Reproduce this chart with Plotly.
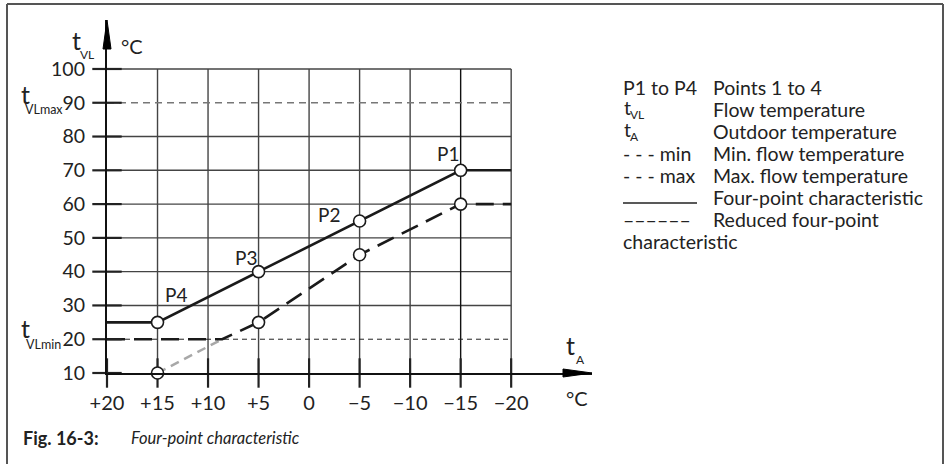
import plotly.graph_objects as go

# ---- data ----
x_ticks = [20, 15, 10, 5, 0, -5, -10, -15, -20]
x_tick_text = ["+20", "+15", "+10", "+5", "0", "\u22125", "\u221210", "\u221215", "\u221220"]
y_ticks = [10, 20, 30, 40, 50, 60, 70, 80, 90, 100]
y_grid_solid = [30, 40, 50, 60, 70, 80, 100]
y_max_line = 90
y_min_line = 20

four_point_x = [20, 15, 5, -5, -15, -20]
four_point_y = [25, 25, 40, 55, 70, 70]

reduced_x = [20, 8.6, 5, -5, -15, -20]
reduced_y = [20, 20, 25, 45, 60, 60]

reduced_ext_x = [15, 8.6]
reduced_ext_y = [10, 20]

points_x = [-15, -5, 5, 15]
points_y = [70, 55, 40, 25]
points_lbl = ["P1", "P2", "P3", "P4"]
reduced_pts_x = [-15, -5, 5, 15]
reduced_pts_y = [60, 45, 25, 10]

# legend: (symbol text, subscript, description)
legend_sym = ["P1 to P4", "t", "t", "- - - min", "- - - max", "", "\u2013\u2013\u2013\u2013\u2013\u2013", "characteristic"]
legend_sub = ["", "VL", "A", "", "", "", "", ""]
legend_desc = ["Points 1 to 4", "Flow temperature", "Outdoor temperature", "Min. flow temperature",
               "Max. flow temperature", "Four-point characteristic", "Reduced four-point", ""]

# ---- layout geometry (pixels) ----
W, H = 946, 464
L, R, T, B = 107, 354, 20, 91
PW, PH = W - L - R, H - T - B
FONT = "Lato, 'Open Sans', sans-serif"
INK = "#222"


def px(p):
    return (p - L) / PW


def py(p):
    return (H - B - p) / PH


def txt(x, y, text, size, anchor="center", **kw):
    return dict(x=px(x), y=py(y), xref="paper", yref="paper", text=text, showarrow=False,
                xanchor=anchor, yanchor="middle", font=dict(size=size, color=INK), **kw)


fig = go.Figure()

# characteristic lines
fig.add_trace(go.Scatter(x=reduced_ext_x, y=reduced_ext_y, mode="lines",
                         line=dict(color="#a8a8a8", width=2.5, dash="9px,6px")))
fig.add_trace(go.Scatter(x=reduced_x, y=reduced_y, mode="lines",
                         line=dict(color="#1a1a1a", width=2.6, dash="18px,9px")))
fig.add_trace(go.Scatter(x=four_point_x, y=four_point_y, mode="lines",
                         line=dict(color="#1a1a1a", width=2.6)))

# tick crosses on axes
fig.add_trace(go.Scatter(x=x_ticks, y=[10] * len(x_ticks), mode="markers", cliponaxis=False,
                         marker=dict(symbol="line-ns", size=21, line=dict(color=INK, width=2.2))))
fig.add_trace(go.Scatter(x=[20] * len(y_ticks), y=y_ticks, mode="markers", cliponaxis=False,
                         marker=dict(symbol="line-ew", size=21, line=dict(color=INK, width=2.2))))

# point circles
fig.add_trace(go.Scatter(x=points_x + reduced_pts_x, y=points_y + reduced_pts_y, mode="markers",
                         cliponaxis=False,
                         marker=dict(size=12, color="white", line=dict(color="#1a1a1a", width=1.6))))

shapes = []
# grid
for yv in y_grid_solid:
    shapes.append(dict(type="line", xref="x", yref="y", x0=x_ticks[0], x1=x_ticks[-1], y0=yv, y1=yv,
                       line=dict(color="#444", width=1.4), layer="below"))
for xv in x_ticks[1:]:
    shapes.append(dict(type="line", xref="x", yref="y", x0=xv, x1=xv, y0=y_ticks[0], y1=y_ticks[-1],
                       line=dict(color="#111" if xv == -15 else "#444", width=1.4), layer="below"))
shapes.append(dict(type="line", xref="x", yref="y", x0=x_ticks[0], x1=x_ticks[-1], y0=y_max_line, y1=y_max_line,
                   line=dict(color="#777", width=1.4, dash="7px,5px"), layer="below"))
shapes.append(dict(type="line", xref="x", yref="y", x0=x_ticks[0], x1=x_ticks[-1], y0=y_min_line, y1=y_min_line,
                   line=dict(color=INK, width=1, dash="5px,4px"), layer="below"))

# arrowheads
shapes.append(dict(type="path", xref="paper", yref="paper", xsizemode="pixel", ysizemode="pixel",
                   xanchor=1, yanchor=0, path="M0,0 L-29,4 L-29,-4 Z",
                   fillcolor="black", line=dict(color="black", width=1)))
shapes.append(dict(type="path", xref="paper", yref="paper", xsizemode="pixel", ysizemode="pixel",
                   xanchor=0, yanchor=1, path="M0,0 L-4,-29 L4,-29 Z",
                   fillcolor="black", line=dict(color="black", width=1)))

# frame
shapes.append(dict(type="line", xref="paper", yref="paper", x0=px(7), x1=px(943), y0=py(4), y1=py(4),
                   line=dict(color="#555", width=2)))
shapes.append(dict(type="line", xref="paper", yref="paper", x0=px(7), x1=px(7), y0=py(4), y1=py(464),
                   line=dict(color="#555", width=2)))
shapes.append(dict(type="line", xref="paper", yref="paper", x0=px(943), x1=px(943), y0=py(4), y1=py(464),
                   line=dict(color="#555", width=2)))

annotations = []
# point labels
label_shift = {"P1": (-13, 17), "P2": (-31, 6), "P3": (-13, 14), "P4": (18, 28)}
for xv, yv, t in zip(points_x, points_y, points_lbl):
    dx, dy = label_shift[t]
    annotations.append(dict(x=xv, y=yv, xref="x", yref="y", text=t, showarrow=False,
                            xshift=dx, yshift=dy, font=dict(size=19, color=INK)))

# axis titles and special labels (t with separate subscripts)
annotations += [
    txt(76, 40, "t", 25), txt(87, 55, "VL", 12),
    txt(132, 46, "\u00b0C", 20),
    txt(25, 94, "t", 25), txt(44, 110, "VLmax", 12.5),
    txt(25, 328, "t", 25), txt(43, 344, "VLmin", 12.5),
    txt(570, 345, "t", 25), txt(580, 359, "A", 12),
    txt(577, 398, "\u00b0C", 20),
]

# legend text
for i, (sym, sub, desc) in enumerate(zip(legend_sym, legend_sub, legend_desc)):
    yrow = 87 + 22 * i
    if sub:
        annotations.append(txt(622, yrow - 2, sym, 19.5, "left"))
        annotations.append(txt(628, yrow + 5, sub, 12, "left"))
    elif sym:
        annotations.append(txt(621, yrow, sym, 19.5, "left"))
    if desc:
        annotations.append(txt(711, yrow, desc, 19.5, "left"))
shapes.append(dict(type="line", xref="paper", yref="paper", x0=px(623), x1=px(697),
                   y0=py(87 + 22 * 5 + 6), y1=py(87 + 22 * 5 + 6), line=dict(color=INK, width=1.3)))

# caption
annotations += [
    txt(21, 438, "<b>Fig. 16-3:</b>", 18, "left"),
    txt(129, 438, "<i>Four-point characteristic</i>", 16.5, "left"),
]

fig.update_layout(
    width=W, height=H,
    margin=dict(l=L, r=R, t=T, b=B, autoexpand=False),
    paper_bgcolor="white", plot_bgcolor="white",
    showlegend=False,
    font=dict(family=FONT, color=INK),
    shapes=shapes, annotations=annotations,
    xaxis=dict(range=[20, -28], tickvals=x_ticks, ticktext=x_tick_text, showgrid=False, zeroline=False,
               showline=True, linecolor="#111", linewidth=2.2, ticks="", ticklabelstandoff=11,
               tickfont=dict(size=20, color=INK), automargin=False, fixedrange=True),
    yaxis=dict(range=[10, 114.5], tickvals=y_ticks, showgrid=False, zeroline=False,
               showline=True, linecolor="#111", linewidth=2.2, ticks="", ticklabelstandoff=16,
               tickfont=dict(size=19.5, color=INK), automargin=False, fixedrange=True),
)

fig.write_html("out.html", config={"displayModeBar": False},
               post_script="document.body.style.margin='0';document.body.style.padding='0';")
